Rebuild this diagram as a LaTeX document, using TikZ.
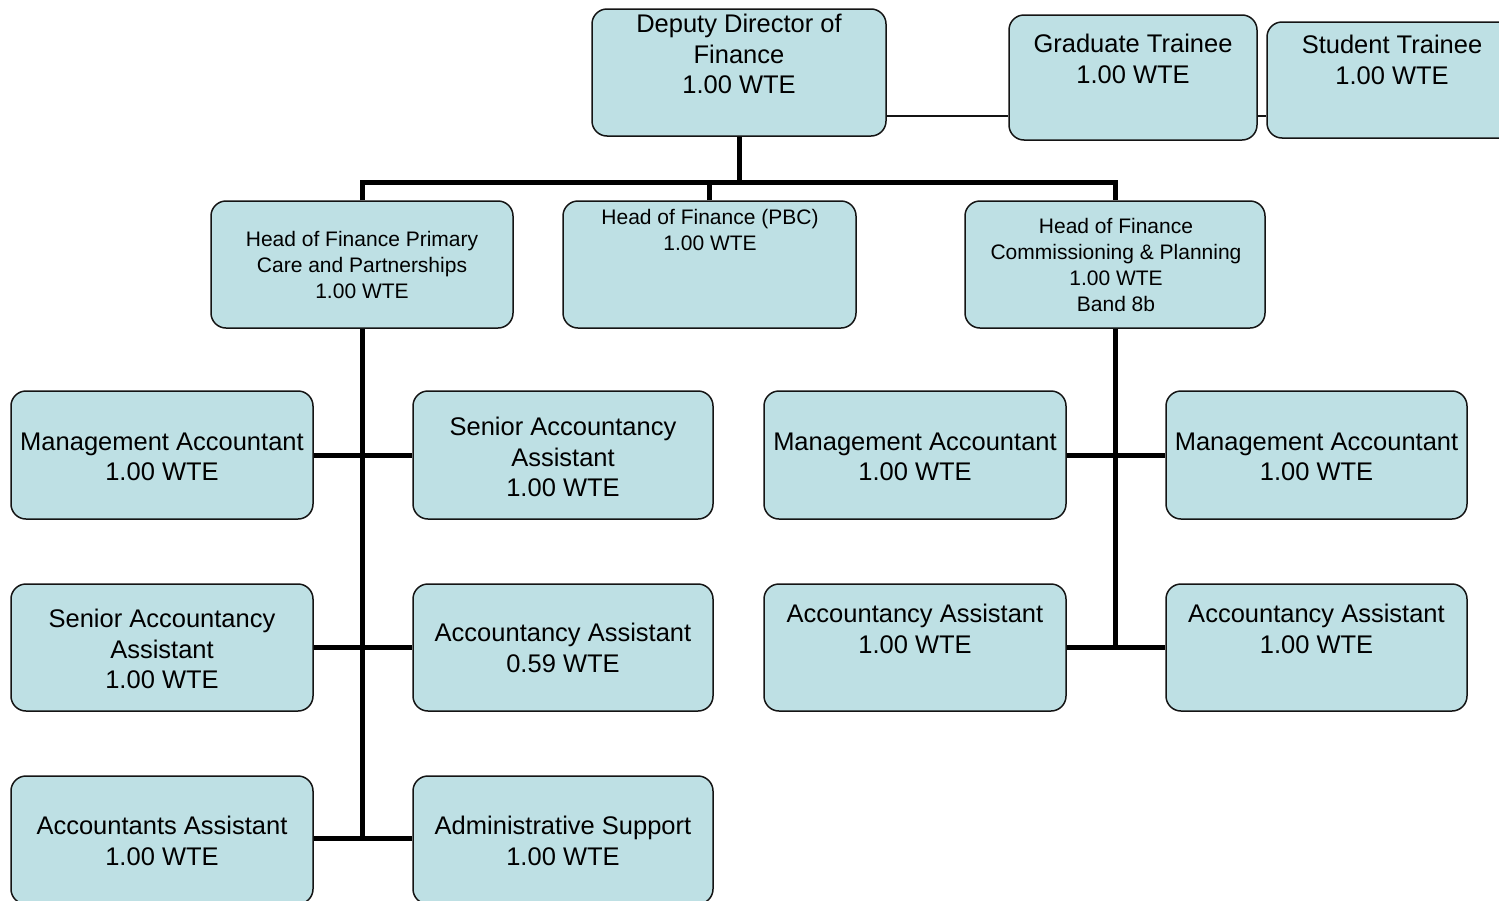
\documentclass[tikz,border=0pt]{standalone}
\usepackage{fontspec}
\setmainfont{Liberation Sans}
\definecolor{boxfill}{RGB}{190,224,228}
\definecolor{inkline}{RGB}{20,20,20}
\begin{document}
\begin{tikzpicture}[x=1pt,y=-1pt,
  box/.style={draw=inkline, line width=1.5pt, fill=boxfill, rounded corners=15pt, inner sep=0pt},
  big/.style={align=center, inner sep=0pt, font=\fontsize{25.5}{30.5}\selectfont},
  small/.style={align=center, inner sep=0pt, font=\fontsize{21}{26}\selectfont},
  bus/.style={line width=5pt, draw=black},
  link/.style={line width=1.5pt, draw=inkline}]
\useasboundingbox (0,0) rectangle (1499,900);
\clip (0,0) rectangle (1499,900);

% helper rows for the connectors
\coordinate (busrow) at (0,182);
\coordinate (linkrow) at (0,116);

% top level
\node[box, minimum width=294pt, minimum height=127pt] (dd) at (739,72.5) {};
\node[box, minimum width=248pt, minimum height=125pt] (gt) at (1133,77.5) {};
\node[box, minimum width=250pt, minimum height=116pt] (st) at (1392,80) {};

% heads of finance
\node[box, minimum width=302pt, minimum height=127pt] (hp) at (362,264.5) {};
\node[box, minimum width=293pt, minimum height=127pt] (hb) at (709.5,264.5) {};
\node[box, minimum width=300pt, minimum height=127pt] (hc) at (1115,264.5) {};

% staff boxes
\node[box, minimum width=302pt, minimum height=128pt] (a1) at (162,455) {};
\node[box, minimum width=300pt, minimum height=128pt] (b1) at (563,455) {};
\node[box, minimum width=302pt, minimum height=128pt] (c1) at (915,455) {};
\node[box, minimum width=301pt, minimum height=128pt] (d1) at (1316.5,455) {};
\node[box, minimum width=302pt, minimum height=127pt] (a2) at (162,647.5) {};
\node[box, minimum width=300pt, minimum height=127pt] (b2) at (563,647.5) {};
\node[box, minimum width=302pt, minimum height=127pt] (c2) at (915,647.5) {};
\node[box, minimum width=301pt, minimum height=127pt] (d2) at (1316.5,647.5) {};
\node[box, minimum width=302pt, minimum height=128pt] (a3) at (162,840) {};
\node[box, minimum width=300pt, minimum height=128pt] (b3) at (563,840) {};

% labels
\node[big] (ddt) at (739,54) {Deputy Director of\\Finance\\1.00 WTE};
\node[big] (gtt) at (1133,59) {Graduate Trainee\\1.00 WTE};
\node[big] (stt) at (1392,60) {Student Trainee\\1.00 WTE};
\node[small] (hpt) at (362,264.5) {Head of Finance Primary\\Care and Partnerships\\1.00 WTE};
\node[small] (hbt) at (710,230) {Head of Finance (PBC)\\1.00 WTE};
\node[small] (hct) at (1116,264.5) {Head of Finance\\Commissioning \& Planning\\1.00 WTE\\Band 8b};
\node[big] (a1t) at (162,457) {Management Accountant\\1.00 WTE};
\node[big] (b1t) at (563,457) {Senior Accountancy\\Assistant\\1.00 WTE};
\node[big] (c1t) at (915,457) {Management Accountant\\1.00 WTE};
\node[big] (d1t) at (1316.5,457) {Management Accountant\\1.00 WTE};
\node[big] (a2t) at (162,649) {Senior Accountancy\\Assistant\\1.00 WTE};
\node[big] (b2t) at (563,648) {Accountancy Assistant\\0.59 WTE};
\node[big] (c2t) at (915,629) {Accountancy Assistant\\1.00 WTE};
\node[big] (d2t) at (1316.5,629) {Accountancy Assistant\\1.00 WTE};
\node[big] (a3t) at (162,841) {Accountants Assistant\\1.00 WTE};
\node[big] (b3t) at (563,841) {Administrative Support\\1.00 WTE};

% thin links to the trainees
\draw[link] (dd.east |- linkrow) -- (gt.west |- linkrow);
\draw[link] (gt.east |- linkrow) -- (st.west |- linkrow);

% main bus from the deputy director
\draw[bus] (dd.south) -- (dd.south |- busrow);
\draw[bus] (hp.north) -- (hp.north |- busrow) -| (hc.north);
\draw[bus] (hb.north) -- (hb.north |- busrow);

% primary care branch
\draw[bus] (hp.south) -- (hp.south |- 0,838);
\draw[bus] (a1.east) -- (b1.west);
\draw[bus] (a2.east) -- (b2.west);
\draw[bus] (a3.east |- 0,838) -- (b3.west |- 0,838);

% commissioning branch
\draw[bus] (hc.south) -- (hc.south |- c2.east);
\draw[bus] (c1.east) -- (d1.west);
\draw[bus] (c2.east) -- (d2.west);
\end{tikzpicture}
\end{document}
